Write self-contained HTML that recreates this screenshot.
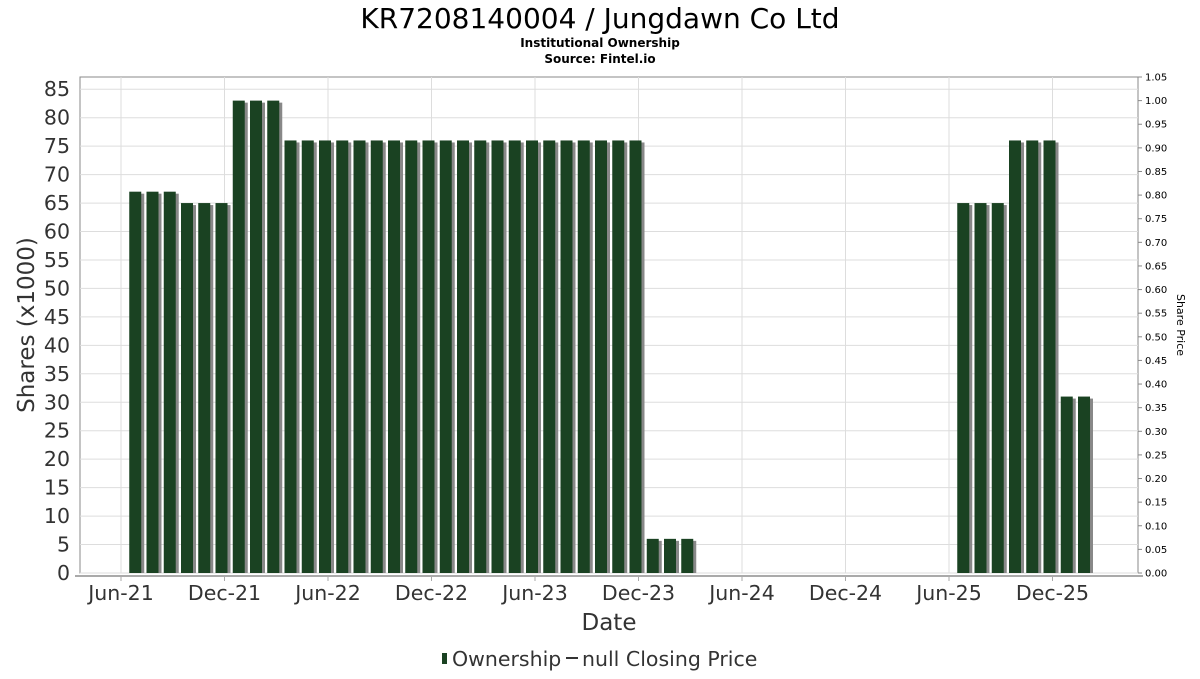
<!DOCTYPE html>
<html><head><meta charset="utf-8"><style>
body{margin:0;background:#fff;font-family:"DejaVu Sans","Liberation Sans",sans-serif;}
svg text{font-family:"DejaVu Sans","Liberation Sans",sans-serif;}
</style></head><body>
<svg id="chart" width="1200" height="675" viewBox="0 0 1200 675" xmlns="http://www.w3.org/2000/svg">
<text x="600" y="28" font-size="28" text-anchor="middle" fill="#000">KR7208140004 / Jungdawn Co Ltd</text>
<text x="600" y="47" font-size="12" font-weight="bold" text-anchor="middle">Institutional Ownership</text>
<text x="600" y="63" font-size="12" font-weight="bold" text-anchor="middle">Source: Fintel.io</text>
<g id="grid"></g><g id="bars"></g><g id="axes"></g>
<text x="609" y="630" font-size="23" text-anchor="middle" fill="#333">Date</text>
<text transform="translate(34,325) rotate(-90)" font-size="23" text-anchor="middle" fill="#333">Shares (x1000)</text>
<text transform="translate(1177,325) rotate(90)" font-size="11" text-anchor="middle">Share Price</text>
<g>
<rect x="442" y="653" width="5" height="11" fill="#1a4222"/>
<text x="452" y="666" font-size="20.5" fill="#333">Ownership</text>
<line x1="566" y1="658" x2="578" y2="658" stroke="#333" stroke-width="2"/>
<text x="582" y="666" font-size="20.5" fill="#333">null Closing Price</text>
</g>
</svg>
<script>
const barMonths=[1,2,3,4,5,6,7,8,9,10,11,12,13,14,15,16,17,18,19,20,21,22,23,24,25,26,27,28,29,30,31,32,33,49,50,51,52,53,54,55,56];
const barValues=[67,67,67,65,65,65,83,83,83,76,76,76,76,76,76,76,76,76,76,76,76,76,76,76,76,76,76,76,76,76,6,6,6,65,65,65,76,76,76,31,31];
const xTickLabels=["Jun-21","Dec-21","Jun-22","Dec-22","Jun-23","Dec-23","Jun-24","Dec-24","Jun-25","Dec-25"];
const xTickMonths=[0,6,12,18,24,30,36,42,48,54];
const yTicks=[0,5,10,15,20,25,30,35,40,45,50,55,60,65,70,75,80,85];
const rightTicks=["0.00","0.05","0.10","0.15","0.20","0.25","0.30","0.35","0.40","0.45","0.50","0.55","0.60","0.65","0.70","0.75","0.80","0.85","0.90","0.95","1.00","1.05"];
const L=80,R=1138,T=77,B=573,YMAX=87.15;
const x=m=>121+m*17.25;
const y=v=>B-(v/YMAX)*(B-T);
const yr=v=>B-(v/1.05)*(B-T);
const NS="http://www.w3.org/2000/svg";
function mk(tag,attrs,parent){const e=document.createElementNS(NS,tag);for(const k in attrs)e.setAttribute(k,attrs[k]);parent.appendChild(e);return e;}
const grid=document.getElementById('grid'),bars=document.getElementById('bars'),axes=document.getElementById('axes');
mk('rect',{x:L,y:T,width:R-L,height:B-T,fill:'#fff',stroke:'#888'},grid);
yTicks.forEach(v=>{
 const l=mk('line',{x1:L,x2:R,y1:y(v),y2:y(v),stroke:'#ddd'},grid);
 
 
 const t=mk('text',{x:L-10,y:y(v)+7,'font-size':20.5,'text-anchor':'end',fill:'#333'},axes);
 t.textContent=v;
 
 
});
xTickMonths.forEach((m,i)=>{
 const l=mk('line',{x1:x(m),x2:x(m),y1:T,y2:B,stroke:'#ddd'},grid);
 
 
 mk('line',{x1:x(m),x2:x(m),y1:B+3,y2:B+8,stroke:'#aaa'},axes);
 const t=mk('text',{x:x(m),y:B+27,'font-size':20.5,'text-anchor':'middle',fill:'#333'},axes);
 t.textContent=xTickLabels[i];
 
 
});
rightTicks.forEach(s=>{
 const v=parseFloat(s);
 mk('line',{x1:R,x2:R+4,y1:yr(v),y2:yr(v),stroke:'#888'},axes);
 const t=mk('text',{x:R+7,y:yr(v)+3.5,'font-size':10,fill:'#000'},axes);
 t.textContent=s;
 
 
});
mk('line',{x1:L-5,x2:R+5,y1:B+3,y2:B+3,stroke:'#aaa','stroke-width':2},axes);
barMonths.forEach((m,i)=>{
 const cx=x(m)-3,top=y(barValues[i]);
 mk('rect',{x:cx-6+3,y:top+2,width:12,height:B-top-2,fill:'#888'},bars);
 const b=mk('rect',{x:cx-6,y:top,width:12,height:B-top,fill:'#1a4222'},bars);
 
 
});
</script>
</body></html>
